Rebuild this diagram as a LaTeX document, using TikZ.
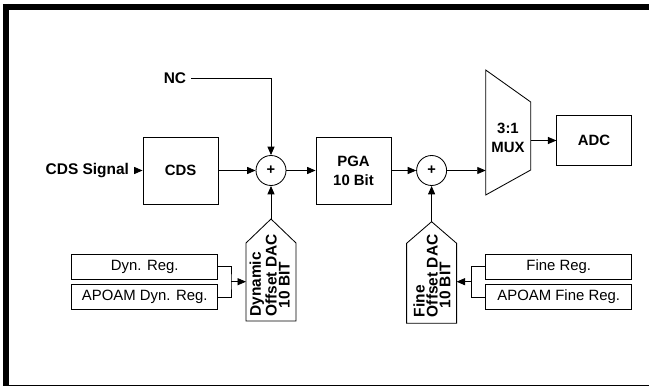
\documentclass[tikz,border=0pt]{standalone}
\usepackage{fontspec}
\setmainfont{Liberation Sans}
\usepackage{tikz}
\usetikzlibrary{positioning, calc, arrows.meta}

\begin{document}
\begin{tikzpicture}[
          box/.style={draw, line width=0.6pt, minimum width=1.875cm,
                      minimum height=1.675cm, align=center,
                      font=\fontsize{10.6}{13.5}\selectfont\bfseries},
          sum/.style={draw, circle, line width=0.6pt, minimum size=0.75cm,
                      inner sep=0pt, font=\fontsize{10.4}{12}\selectfont\bfseries},
          reg/.style={draw, line width=0.6pt, minimum width=3.65cm,
                      minimum height=0.625cm, font=\fontsize{10.6}{12}\selectfont},
          dac/.style={rotate=90, anchor=west, inner sep=0pt, align=left,
                      font=\fontsize{11}{9.2}\selectfont\bfseries},
          lbl/.style={font=\fontsize{11}{12}\selectfont\bfseries},
          arr/.style={-{Triangle[length=6pt, width=5pt]}, line width=0.6pt}
        ]
        \useasboundingbox (0,0) rectangle (16.225,-9.675);
        % frame: heavy top and left edge, thin bottom edge
        \draw[line width=0.15cm] (0.075,-0.175) -- (16.225,-0.175);
        \draw[line width=0.15cm] (0.1575,-0.1) -- (0.1575,-9.65);
        \draw[line width=0.8pt] (0.075,-9.6375) -- (16.225,-9.6375);

        \node[lbl, anchor=east] (sig) at (3.35,-4.2625) {CDS Signal};
        \node[box] (cds)  at (4.5125,-4.2625) {CDS};
        \node[sum] (sum1) at (6.775,-4.2625) {+};
        \node[box] (pga)  at (8.8375,-4.2625) {PGA\\10 Bit};
        \node[sum] (sum2) at (10.79,-4.2625) {+};
        \node[lbl] (nc)   at (4.375,-1.95) {NC};

        % multiplexer outline
        \coordinate (mux nw) at (12.1425,-1.75);
        \coordinate (mux ne) at (13.2675,-2.55);
        \coordinate (mux se) at (13.2675,-4.25);
        \coordinate (mux sw) at (12.1425,-4.875);
        \draw[line width=0.6pt] (mux nw) -- (mux ne) -- (mux se) -- (mux sw) -- cycle;
        \node[lbl, align=center, font=\fontsize{10.6}{13.5}\selectfont\bfseries]
              (mux) at (12.7,-3.4375) {3:1\\MUX};
        \node[box, minimum width=1.86cm, minimum height=1.24cm]
              (adc) at (14.85,-3.5125) {ADC};

        % offset DACs, drawn as arrow-topped blocks
        \coordinate (dac1 tip) at (6.775,-5.475);
        \draw[line width=0.6pt] (6.15,-8.025) -- (6.15,-6.075) -- (dac1 tip)
              -- (7.4,-6.075) -- (7.4,-8.025) -- cycle;
        \node[dac] (dac1) at (6.74,-7.925) {Dynamic\\Offset DAC\\~~10 BIT};
        \coordinate (dac2 tip) at (10.79,-5.5425);
        \draw[line width=0.6pt] (10.165,-8.0825) -- (10.165,-6.0825) -- (dac2 tip)
              -- (11.415,-6.0825) -- (11.415,-8.0825) -- cycle;
        \node[dac] (dac2) at (10.8,-7.935) {Fine\\Offset DAC\\~~10 BIT};

        \node[reg] (dyn)    at (3.6175,-6.6625) {Dyn. Reg.};
        \node[reg] (apdyn)  at (3.6175,-7.425) {APOAM Dyn. Reg.};
        \node[reg] (fine)   at (13.9675,-6.6625) {Fine Reg.};
        \node[reg] (apfine) at (13.9675,-7.425) {APOAM Fine Reg.};
        \coordinate (jdyn)  at (5.775,-7.0425);
        \coordinate (jfine) at (11.7925,-7.0425);
        \coordinate (dac1 in) at (6.15,-7.0425);
        \coordinate (dac2 in) at (11.415,-7.0425);

        \draw[arr] (sig) -- (cds);
        \draw[arr] (cds) -- (sum1);
        \draw[arr] (sum1) -- (pga);
        \draw[arr] (pga) -- (sum2);
        \draw[arr] (sum2) -- (sum2 -| mux nw);
        \draw[arr] (mux ne |- adc) -- (adc);
        \draw[arr] (nc) -| (sum1);
        \draw[arr] (dac1 tip) -- (sum1);
        \draw[arr] (dac2 tip) -- (sum2);

        \draw[line width=0.6pt] (dyn) -| (jdyn) |- (apdyn);
        \draw[arr] (jdyn) -- (dac1 in);
        \draw[line width=0.6pt] (fine) -| (jfine) |- (apfine);
        \draw[arr] (jfine) -- (dac2 in);
      \end{tikzpicture}
\end{document}
